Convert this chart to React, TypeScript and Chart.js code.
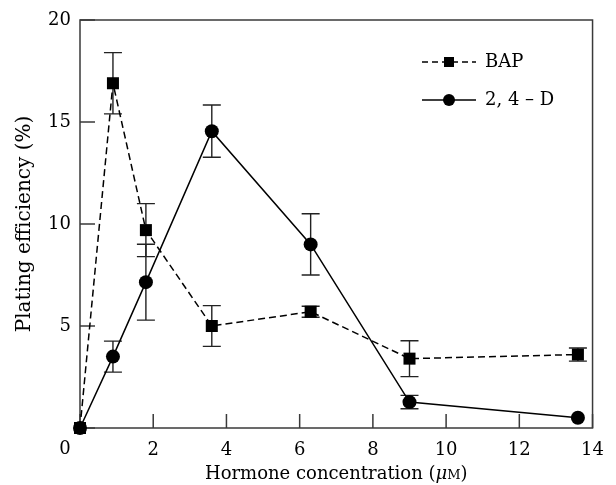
import React, { useEffect, useRef } from 'react';
import { Chart, registerables } from 'chart.js';

Chart.register(...registerables);

// ---- data ----
const concentrations = [0, 0.9, 1.8, 3.6, 6.3, 9.0, 13.6];
const bapValues = [0, 16.9, 9.7, 5.0, 5.7, 3.4, 3.6];
const bapErrors = [0, 1.5, 1.3, 1.0, 0.27, 0.88, 0.32];
const dValues = [0, 3.5, 7.15, 14.55, 9.0, 1.27, 0.5];
const dErrors = [0, 0.76, 1.86, 1.28, 1.5, 0.33, 0];
const seriesNames = ['BAP', '2, 4 – D'];
const xTickValues = [0, 2, 4, 6, 8, 10, 12, 14];
const yTickValues = [0, 5, 10, 15, 20];
const xTitleMain = 'Hormone concentration (';
const xTitleMu = 'μ';
const xTitleUnit = 'M';
const xTitleEnd = ')';
const yTitle = 'Plating efficiency (%)';

const FONT = "'DejaVu Serif', serif";
const INK = '#000';
const AXIS = '#3a3a3a';

const decorPlugin = {
  id: 'decor',
  beforeDatasetsDraw(chart: any) {
    const { ctx, chartArea, scales } = chart;
    const xs = scales.x;
    const ys = scales.y;
    ctx.save();
    // error bars
    const drawErr = (vals: number[], errs: number[]) => {
      ctx.strokeStyle = '#222';
      ctx.lineWidth = 1.4;
      ctx.setLineDash([]);
      vals.forEach((v, i) => {
        if (!errs[i]) return;
        const px = xs.getPixelForValue(concentrations[i]);
        const top = ys.getPixelForValue(v + errs[i]);
        const bot = ys.getPixelForValue(v - errs[i]);
        ctx.beginPath();
        ctx.moveTo(px, top);
        ctx.lineTo(px, bot);
        ctx.moveTo(px - 9, top);
        ctx.lineTo(px + 9, top);
        ctx.moveTo(px - 9, bot);
        ctx.lineTo(px + 9, bot);
        ctx.stroke();
      });
    };
    drawErr(bapValues, bapErrors);
    drawErr(dValues, dErrors);
    // frame
    ctx.strokeStyle = AXIS;
    ctx.lineWidth = 1.5;
    ctx.strokeRect(chartArea.left, chartArea.top, chartArea.right - chartArea.left, chartArea.bottom - chartArea.top);
    // inward ticks
    ctx.beginPath();
    xTickValues.forEach((t) => {
      const px = xs.getPixelForValue(t);
      ctx.moveTo(px, chartArea.bottom);
      ctx.lineTo(px, chartArea.bottom - 14);
    });
    yTickValues.forEach((t) => {
      const py = ys.getPixelForValue(t);
      ctx.moveTo(chartArea.left, py);
      ctx.lineTo(chartArea.left + 15, py);
    });
    ctx.stroke();
    ctx.restore();
  },
  afterDraw(chart: any) {
    const { ctx, chartArea, scales } = chart;
    const xs = scales.x;
    ctx.save();
    ctx.fillStyle = INK;
    // origin label
    ctx.font = `18px ${FONT}`;
    ctx.textAlign = 'center';
    ctx.textBaseline = 'middle';
    ctx.fillText(String(xTickValues[0]), xs.getPixelForValue(xTickValues[0]) - 15, 449);
    // x title with italic mu and small M
    const fMain = `18px ${FONT}`;
    const fMu = `italic 18px ${FONT}`;
    const fM = `13px ${FONT}`;
    ctx.textAlign = 'left';
    ctx.textBaseline = 'alphabetic';
    ctx.font = fMain;
    const w1 = ctx.measureText(xTitleMain).width;
    const w4 = ctx.measureText(xTitleEnd).width;
    ctx.font = fMu;
    const w2 = ctx.measureText(xTitleMu).width;
    ctx.font = fM;
    const w3 = ctx.measureText(xTitleUnit).width;
    const total = w1 + w2 + w3 + w4;
    let x = (chartArea.left + chartArea.right) / 2 - total / 2;
    const base = 479;
    ctx.font = fMain; ctx.fillText(xTitleMain, x, base); x += w1;
    ctx.font = fMu; ctx.fillText(xTitleMu, x, base); x += w2;
    ctx.font = fM; ctx.fillText(xTitleUnit, x, base); x += w3;
    ctx.font = fMain; ctx.fillText(xTitleEnd, x, base);

    // legend
    const lx0 = 422, lx1 = 476, mx = 449, tx = 485;
    const rows = [62, 100];
    ctx.strokeStyle = INK;
    ctx.lineWidth = 1.5;
    // BAP
    ctx.setLineDash([6, 4]);
    ctx.beginPath();
    ctx.moveTo(lx0, rows[0]);
    ctx.lineTo(lx1, rows[0]);
    ctx.stroke();
    ctx.setLineDash([]);
    ctx.fillRect(mx - 5, rows[0] - 5, 10, 10);
    // 2,4-D
    ctx.beginPath();
    ctx.moveTo(lx0, rows[1]);
    ctx.lineTo(lx1, rows[1]);
    ctx.stroke();
    ctx.beginPath();
    ctx.arc(mx, rows[1], 6, 0, Math.PI * 2);
    ctx.fill();
    ctx.font = `18px ${FONT}`;
    ctx.textBaseline = 'middle';
    ctx.textAlign = 'left';
    ctx.fillText(seriesNames[0], tx, rows[0]);
    ctx.fillText(seriesNames[1], tx, rows[1]);
    ctx.restore();
  },
};

export default function App() {
  const ref = useRef<HTMLCanvasElement>(null);
  useEffect(() => {
    if (!ref.current) return;
    const chart = new Chart(ref.current, {
      type: 'line',
      data: {
        datasets: [
          {
            label: seriesNames[0],
            data: concentrations.map((c, i) => ({ x: c, y: bapValues[i] })),
            borderColor: INK,
            backgroundColor: INK,
            borderWidth: 1.5,
            borderDash: [7, 4],
            pointStyle: 'rect',
            pointRadius: 8.5,
            pointBorderWidth: 0,
            pointBackgroundColor: INK,
            clip: false,
          } as any,
          {
            label: seriesNames[1],
            data: concentrations.map((c, i) => ({ x: c, y: dValues[i] })),
            borderColor: INK,
            backgroundColor: INK,
            borderWidth: 1.5,
            pointStyle: 'circle',
            pointRadius: 7,
            pointBorderWidth: 0,
            pointBackgroundColor: INK,
            clip: false,
          } as any,
        ],
      },
      options: {
        responsive: true,
        maintainAspectRatio: false,
        animation: false,
        layout: { padding: { left: 0, top: 20, right: 12, bottom: 0 } },
        plugins: {
          legend: { display: false },
          tooltip: { enabled: false },
        },
        scales: {
          x: {
            type: 'linear',
            min: 0,
            max: 14,
            grid: { display: false, drawTicks: false },
            border: { display: false },
            afterBuildTicks: (s: any) => { s.ticks = xTickValues.map((v) => ({ value: v })); },
            afterFit: (s: any) => { s.height = 57; },
            ticks: {
              padding: 12,
              color: INK,
              font: { family: FONT, size: 18 },
              maxRotation: 0,
              autoSkip: false,
              callback: (v: any) => (v === 0 ? '' : String(v)),
            },
          },
          y: {
            min: 0,
            max: 20,
            grid: { display: false, drawTicks: false },
            border: { display: false },
            afterBuildTicks: (s: any) => { s.ticks = yTickValues.map((v) => ({ value: v })); },
            afterFit: (s: any) => { s.width = 80; },
            ticks: {
              padding: 9,
              color: INK,
              font: { family: FONT, size: 18 },
              callback: (v: any) => (v === 0 ? '' : String(v)),
            },
            title: {
              display: true,
              text: yTitle,
              color: INK,
              font: { family: FONT, size: 20 },
              padding: { top: 13, bottom: 0 },
            },
          },
        },
      },
      plugins: [decorPlugin],
    });
    return () => chart.destroy();
  }, []);
  return (
    <div style={{ position: 'absolute', left: 0, top: 0, width: 616, height: 485, background: '#fff' }}>
      <canvas ref={ref} />
    </div>
  );
}
